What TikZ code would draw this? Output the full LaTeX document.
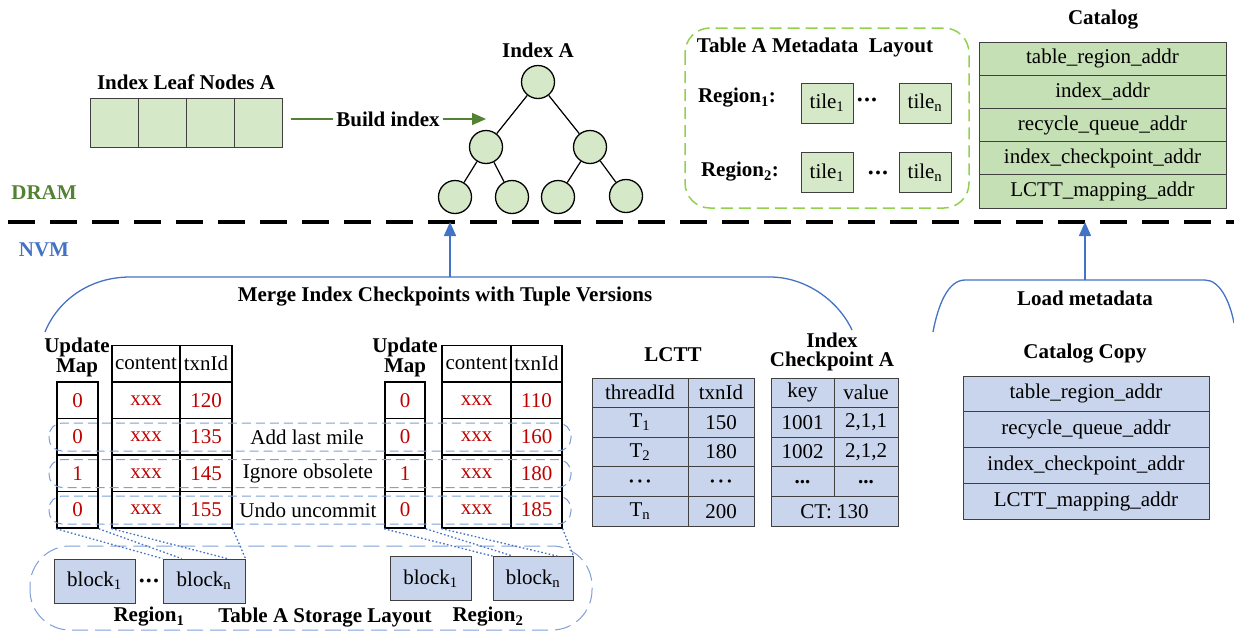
\documentclass[tikz,border=0pt]{standalone}
\usepackage{fontspec}
\setmainfont{Liberation Serif}
\usetikzlibrary{arrows.meta,calc}
\definecolor{leafgreen}{HTML}{D5E8C8}
\definecolor{catgreen}{HTML}{C5E0B4}
\definecolor{nvmblue}{HTML}{C8D5EC}
\definecolor{lineblue}{HTML}{4472C4}
\definecolor{bandblue}{HTML}{7F9FD8}
\definecolor{dramgreen}{HTML}{548235}
\definecolor{dashgreen}{HTML}{92D050}
\definecolor{valred}{HTML}{C00000}
\newcommand{\threedots}{{\fontsize{10}{10}\selectfont$\bullet\bullet\bullet$}}
\newcommand{\spacedots}{{\fontsize{8}{8}\selectfont$\bullet\;\bullet\;\bullet$}}
\tikzset{
    txt/.style={font=\fontsize{21}{21}\selectfont},
    title/.style={font=\fontsize{21}{21}\selectfont\bfseries, align=center},
    cell/.style={draw=black!75, line width=0.9pt, inner sep=0pt, font=\fontsize{21}{21}\selectfont},
    leafcell/.style={cell, fill=leafgreen, minimum width=48, minimum height=49},
    tile/.style={cell, fill=leafgreen, minimum width=52, minimum height=40},
    catrow/.style={cell, fill=catgreen, minimum width=247, minimum height=33.2},
    copyrow/.style={cell, fill=nvmblue, minimum width=246, minimum height=35.75},
    bcell/.style={cell, fill=nvmblue, minimum height=29.6},
    block/.style={cell, fill=nvmblue, minimum height=44},
    wcell/.style={cell, draw=black, line width=1.2pt, minimum height=36.5},
    mapcell/.style={wcell, line width=1.6pt, minimum width=41, text=valred},
    tnode/.style={circle, draw=black, fill=leafgreen, line width=1.3pt, minimum size=33, inner sep=0pt},
    upar/.style={draw=lineblue, line width=1.5pt, -{Triangle[length=14pt,width=12pt]}},
    bracket/.style={draw=lineblue, line width=1.3pt},
    band/.style={draw=bandblue, line width=1pt, dash pattern=on 9pt off 5pt, rounded corners=13pt},
    dotline/.style={draw=lineblue, line width=1.3pt, dash pattern=on 1.6pt off 2.2pt},
}

\begin{document}
\begin{tikzpicture}[x=1pt,y=-1pt]
\useasboundingbox (0,0) rectangle (1234,633);

% DRAM part
\node[title] (leaftitle) at (186,82) {Index Leaf Nodes A};
\foreach \i in {1,...,4}
    \node[leafcell] (leaf\i) at ({66+48*\i},122.5) {};
\coordinate (bstart) at (291,119);
\coordinate (bend) at (486,119);
\node[title] (build) at (388,119) {Build index};
\draw[dramgreen, line width=1.5pt] (bstart) -- (build.west);
\draw[dramgreen, line width=1.5pt, -{Triangle[length=14pt,width=12pt]}] (build.east) -- (bend);

\node[title] (idxtitle) at (538,50) {Index A};
\node[tnode] (r) at (538,82) {};
\node[tnode] (n1) at (486,147) {};
\node[tnode] (n2) at (590,147) {};
\node[tnode] (n11) at (455,197) {};
\node[tnode] (n12) at (512,197) {};
\node[tnode] (n21) at (558,197) {};
\node[tnode] (n22) at (626,196) {};
\draw[line width=1.2pt] (r) -- (n1) (r) -- (n2) (n1) -- (n11) (n1) -- (n12) (n2) -- (n21) (n2) -- (n22);

\draw[dashgreen, line width=1.5pt, dash pattern=on 12pt off 6pt, rounded corners=25pt] (685,28) rectangle (969,208);
\node[title] (metatitle) at (815,47) {Table A Metadata\ \ Layout};
\node[title] (reg1) at (737,98) {Region\textsubscript{1}:};
\node[title] (reg2) at (740,172) {Region\textsubscript{2}:};
\node[tile] (t11) at (827,103) {tile\textsubscript{1}};
\node[tile] (t1n) at (925,103) {tile\textsubscript{n}};
\node[tile] (t21) at (827,172.5) {tile\textsubscript{1}};
\node[tile] (t2n) at (925,172.5) {tile\textsubscript{n}};
\node[txt] (tdots1) at (867,100) {\threedots};
\node[txt] (tdots2) at (878,173) {\threedots};

\node[title] (cattitle) at (1103,20) {Catalog};
\foreach \t [count=\i] in {table\_region\_addr, index\_addr, recycle\_queue\_addr, index\_checkpoint\_addr, LCTT\_mapping\_addr}
    \node[catrow] (cat\i) at (1102.5,{42+33.2*(\i-0.5)}) {\t};

\node[title, text=dramgreen] (dram) at (44,193) {DRAM};
\draw[line width=3.5pt, dash pattern=on 27pt off 15pt] (8,222) -- (1234,222);
\node[title, text=lineblue] (nvm) at (44,250) {NVM};

% NVM part
\coordinate (mtop) at (450,277);
\coordinate (mtip) at (450,222);
\draw[bracket] (45,332) .. controls (58,300) and (90,277) .. (130,277) -- (770,277) .. controls (805,277) and (838,300) .. (852,330);
\draw[upar] (mtop) -- (mtip);
\node[title] (merge) at (445,297) {Merge Index Checkpoints with Tuple Versions};

\coordinate (ltop) at (1085,280);
\coordinate (ltip) at (1085,222);
\draw[bracket] (933,332) .. controls (938,305) and (948,280) .. (965,280) -- (1205,280) .. controls (1220,280) and (1230,302) .. (1234,323);
\draw[upar] (ltop) -- (ltip);
\node[title] (load) at (1085,298) {Load metadata};
\node[title] (copytitle) at (1085,354) {Catalog Copy};
\foreach \t [count=\i] in {table\_region\_addr, recycle\_queue\_addr, index\_checkpoint\_addr, LCTT\_mapping\_addr}
    \node[copyrow] (cp\i) at (1086,{376+35.75*(\i-0.5)}) {\t};

% tuple tables
\node[title] (map1) at (77,357.5) {Update\\[-1pt]Map};
\node[title] (map2) at (405,357.5) {Update\\[-1pt]Map};
\node[wcell, minimum width=68] (ch1) at (146,363.75) {content};
\node[wcell, minimum width=52] (th1) at (206,363.75) {txnId};
\node[wcell, minimum width=69] (ch2) at (476.5,363.75) {content};
\node[wcell, minimum width=51] (th2) at (536.5,363.75) {txnId};
\foreach \m/\v [count=\i] in {0/120,0/135,1/145,0/155} {
    \node[mapcell] (ma\i) at (77.5,{363.75+36.5*\i}) {\m};
    \node[wcell, minimum width=68, text=valred] (ca\i) at (146,{363.75+36.5*\i}) {xxx};
    \node[wcell, minimum width=52, text=valred] (ta\i) at (206,{363.75+36.5*\i}) {\v};
}
\foreach \m/\v [count=\i] in {0/110,0/160,1/180,0/185} {
    \node[mapcell, minimum width=40] (mb\i) at (405,{363.75+36.5*\i}) {\m};
    \node[wcell, minimum width=69, text=valred] (cb\i) at (476.5,{363.75+36.5*\i}) {xxx};
    \node[wcell, minimum width=51, text=valred] (tb\i) at (536.5,{363.75+36.5*\i}) {\v};
}
\node[txt] (addlm) at (307,437) {Add last mile};
\node[txt] (ignob) at (308,473) {Ignore obsolete};
\node[txt] (undou) at (308,510) {Undo uncommit};
\draw[band] (49,423) rectangle (571,451);
\draw[band] (49,459.5) rectangle (571,487.5);
\draw[band] (49,496) rectangle (571,524);

% storage layout
\draw[draw=bandblue, line width=1pt, dash pattern=on 16pt off 7pt, rounded corners=40pt] (30,546) rectangle (592,630);
\node[block, minimum width=81] (b1a) at (94.5,581) {block\textsubscript{1}};
\node[block, minimum width=82] (bna) at (204,581) {block\textsubscript{n}};
\node[txt] (bdots) at (149,581) {\threedots};
\node[block, minimum width=81] (b1b) at (430.5,578.5) {block\textsubscript{1}};
\node[block, minimum width=80] (bnb) at (533,578.5) {block\textsubscript{n}};
\node[title] (sreg1) at (149,617) {Region\textsubscript{1}};
\node[title] (slay) at (325,618) {Table A Storage Layout};
\node[title] (sreg2) at (488,617) {Region\textsubscript{2}};
\draw[dotline] (ma4.south west) -- (bna.north west);
\draw[dotline] (ma4.south east) -- ($(bna.north west)!0.23!(bna.north east)$);
\draw[dotline] (ca4.south west) -- ($(bna.north west)!0.78!(bna.north east)$);
\draw[dotline] (ta4.south east) -- (bna.north east);
\draw[dotline] (mb4.south west) -- (bnb.north west);
\draw[dotline] (mb4.south east) -- ($(bnb.north west)!0.25!(bnb.north east)$);
\draw[dotline] (cb4.south west) -- ($(bnb.north west)!0.8!(bnb.north east)$);
\draw[dotline] (tb4.south east) -- (bnb.north east);

% LCTT
\node[title] (lctttitle) at (673,355) {LCTT};
\foreach \a/\b [count=\i] in {threadId/txnId, {T\textsubscript{1}}/150, {T\textsubscript{2}}/180, {\spacedots}/{\spacedots}, {T\textsubscript{n}}/200} {
    \node[bcell, minimum width=96] (la\i) at (640,{378+29.6*(\i-0.5)}) {\a};
    \node[bcell, minimum width=66] (lb\i) at (721,{378+29.6*(\i-0.5)}) {\b};
}

% index checkpoint
\node[title] (ckpttitle) at (832,351.5) {Index\\[-2pt]Checkpoint A};
\foreach \a/\b [count=\i] in {key/value, 1001/{2,1,1}, 1002/{2,1,2}, {\textbf{...}}/{\textbf{...}}} {
    \node[bcell, minimum width=63] (ka\i) at (802.5,{378+29.6*(\i-0.5)}) {\a};
    \node[bcell, minimum width=64] (kb\i) at (866,{378+29.6*(\i-0.5)}) {\b};
}
\node[bcell, minimum width=127] (ct) at (834.5,{378+29.6*4.5}) {CT: 130};
\end{tikzpicture}
\end{document}
